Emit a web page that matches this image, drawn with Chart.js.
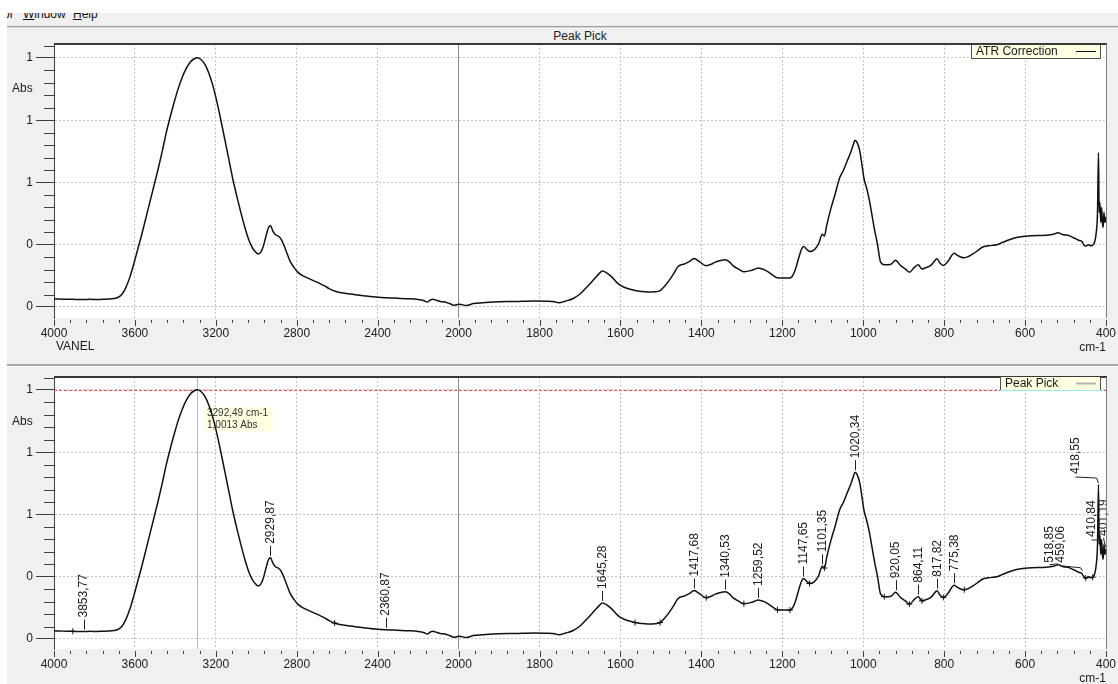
<!DOCTYPE html>
<html>
<head>
<meta charset="utf-8">
<script src="https://cdn.jsdelivr.net/npm/chart.js@4.4.1/dist/chart.umd.min.js"></script>
<style>
  html, body { margin: 0; padding: 0; width: 1118px; height: 684px; overflow: hidden; background: #f0f0f0;
    font-family: "Liberation Sans", Arial, sans-serif; color: #111; }
  .abs { position: absolute; }
  #menu span { position: absolute; top: 7px; font-size: 12px; line-height: 14px; white-space: pre; }
  #title { left: 54px; width: 1052px; top: 29px; text-align: center; font-size: 12px; line-height: 14px; color: #222; }
  canvas { position: absolute; left: 0; }
</style>
</head>
<body>
<div id="menu" class="abs" style="left:0;top:0;width:1118px;height:26px;">
  <span style="left:3px">or</span>
  <span style="left:23px"><u>W</u>indow</span>
  <span style="left:73px"><u>H</u>elp</span>
</div>
<div class="abs" style="left:0;top:0;width:1118px;height:13px;background:#fff;"></div>
<div class="abs" style="left:0;top:0;width:7px;height:684px;background:#fff;"></div>
<div class="abs" style="left:7px;top:26px;width:1111px;height:1px;background:#a0a0a0;"></div>
<div class="abs" style="left:7px;top:27px;width:1111px;height:1px;background:#d8d8d8;"></div>
<div id="title" class="abs">Peak Pick</div>
<div class="abs" style="left:7px;top:364px;width:1111px;height:2px;background:#a8a8a8;"></div>
<div class="abs" style="left:7px;top:366px;width:1111px;height:1px;background:#ffffff;"></div>

<canvas id="atr" width="1118" height="340" style="top:28px"></canvas>
<canvas id="pick" width="1118" height="316" style="top:368px"></canvas>

<script>
// ---- spectrum: wavenumber (cm-1) and absorbance ----
const wavenumbers = [
  4000, 3970, 3940, 3907, 3880, 3853.77, 3820, 3790, 3760, 3730,
  3705, 3685, 3665, 3645, 3625, 3605, 3585, 3565, 3545, 3525,
  3505, 3485, 3465, 3445, 3425, 3405, 3385, 3365, 3345, 3325,
  3305, 3292.49, 3275, 3255, 3235, 3215, 3195, 3175, 3155, 3135,
  3115, 3095, 3075, 3055, 3035, 3015, 3000, 2990, 2978, 2965,
  2952, 2940, 2929.87, 2918, 2905, 2890, 2877, 2862, 2848, 2832,
  2815, 2795, 2771, 2745, 2718, 2690, 2665, 2640, 2613, 2580,
  2542, 2500, 2454, 2410, 2360.87, 2320, 2280, 2243, 2200, 2170,
  2155, 2140, 2129, 2110, 2090, 2067, 2045, 2023, 2010, 1998,
  1981, 1963, 1940, 1901, 1860, 1813, 1785, 1760, 1753, 1735,
  1718, 1700, 1683, 1665, 1652, 1645.28, 1635, 1621, 1610, 1599,
  1582, 1564, 1548, 1533, 1515, 1502, 1490, 1480, 1468, 1458,
  1441, 1430, 1417.68, 1405, 1388, 1375, 1366, 1355, 1340.53, 1330,
  1322, 1308, 1295, 1278, 1268, 1259.52, 1245, 1234, 1222, 1212,
  1195, 1181, 1172, 1165, 1159, 1153, 1147.65, 1140, 1133, 1126,
  1119, 1110, 1101.35, 1096, 1090, 1080, 1070, 1058, 1050, 1040,
  1030, 1024, 1020.34, 1015, 1009, 1003, 998, 992, 985, 979,
  972, 965, 957, 948, 938, 930, 920.05, 908, 896, 886,
  873, 864.11, 855, 845, 833, 825, 817.82, 810, 802, 795,
  789, 775.38, 767, 758, 750, 740, 728, 716, 706, 690,
  670, 655, 644, 630, 618, 600, 582, 565, 547, 530,
  518.85, 505, 494, 480, 468, 459.06, 455, 450, 443, 437,
  433, 428, 424, 421, 418.55, 417, 415, 413, 410.84, 409,
  407, 405, 403, 401.19, 400
];
const absorbance = [
  0.033, 0.032, 0.031, 0.031, 0.030, 0.030, 0.031, 0.030, 0.031, 0.032,
  0.034, 0.038, 0.050, 0.078, 0.120, 0.175, 0.235, 0.295, 0.360, 0.425,
  0.490, 0.555, 0.625, 0.700, 0.765, 0.825, 0.880, 0.925, 0.960, 0.985,
  0.998, 1.0013, 0.995, 0.975, 0.940, 0.890, 0.825, 0.750, 0.670, 0.590,
  0.510, 0.440, 0.375, 0.315, 0.265, 0.232, 0.218, 0.213, 0.220, 0.245,
  0.285, 0.318, 0.326, 0.305, 0.290, 0.284, 0.272, 0.245, 0.215, 0.182,
  0.160, 0.140, 0.126, 0.116, 0.106, 0.096, 0.086, 0.074, 0.064, 0.057,
  0.053, 0.048, 0.044, 0.040, 0.037, 0.036, 0.034, 0.033, 0.030, 0.025,
  0.020, 0.028, 0.031, 0.027, 0.022, 0.020, 0.014, 0.007, 0.009, 0.011,
  0.006, 0.014, 0.017, 0.021, 0.022, 0.024, 0.023, 0.020, 0.017, 0.024,
  0.033, 0.052, 0.080, 0.112, 0.135, 0.145, 0.138, 0.120, 0.100, 0.086,
  0.074, 0.066, 0.062, 0.060, 0.061, 0.066, 0.085, 0.106, 0.135, 0.162,
  0.173, 0.182, 0.195, 0.182, 0.166, 0.172, 0.180, 0.186, 0.190, 0.180,
  0.166, 0.152, 0.142, 0.146, 0.152, 0.157, 0.150, 0.140, 0.126, 0.117,
  0.116, 0.116, 0.133, 0.165, 0.200, 0.230, 0.243, 0.232, 0.223, 0.225,
  0.233, 0.255, 0.292, 0.285, 0.330, 0.395, 0.450, 0.520, 0.545, 0.585,
  0.625, 0.655, 0.670, 0.660, 0.630, 0.570, 0.515, 0.480, 0.430, 0.375,
  0.310, 0.254, 0.180, 0.170, 0.170, 0.173, 0.188, 0.167, 0.153, 0.140,
  0.160, 0.170, 0.153, 0.158, 0.167, 0.182, 0.194, 0.176, 0.167, 0.175,
  0.187, 0.216, 0.207, 0.200, 0.198, 0.203, 0.214, 0.228, 0.240, 0.246,
  0.250, 0.260, 0.267, 0.275, 0.280, 0.284, 0.286, 0.287, 0.288, 0.292,
  0.298, 0.290, 0.288, 0.278, 0.268, 0.262, 0.250, 0.245, 0.250, 0.246,
  0.248, 0.262, 0.300, 0.380, 0.620, 0.380, 0.420, 0.340, 0.400, 0.340,
  0.320, 0.380, 0.340, 0.360, 0.340
];

// picked peaks (labelled) and baseline markers (crosses)
const peakWavenumbers = [3853.77, 2929.87, 2360.87, 1645.28, 1417.68, 1340.53, 1259.52, 1147.65,
  1101.35, 1020.34, 920.05, 864.11, 817.82, 775.38, 518.85, 459.06, 418.55, 410.84, 401.19];
const markerWavenumbers = [3907, 2613, 1564, 1502, 1388, 1295, 1212, 1181, 1133, 1096,
  948, 886, 855, 802, 750, 450, 433];

// cursor readout
const cursorWavenumber = 3292.49;
const cursorAbsorbance = 1.0013;

// axes
const xMajorTicks = [4000, 3600, 3200, 2800, 2400, 2000, 1800, 1600, 1400, 1200, 1000, 800, 600, 400];
const yMajorTicks = [0, 0.25, 0.5, 0.75, 1];

const UI_FONT = '"Liberation Sans", Arial, sans-serif';
Chart.defaults.font.family = UI_FONT;
Chart.defaults.font.size = 12;
Chart.defaults.color = '#202020';

// Wavenumber axis: high values on the left, expanded 2x below 2000 cm-1
const X_BREAK = 2000, X_EXPAND = 2;
class WavenumberScale extends Chart.LinearScale {
  _units(v) {
    return v >= X_BREAK ? (this.max - v) : (this.max - X_BREAK) + X_EXPAND * (X_BREAK - v);
  }
  getPixelForValue(v) {
    if (v === null || v === undefined || isNaN(v)) return NaN;
    return this.getPixelForDecimal(this._units(v) / this._units(this.min));
  }
  getValueForPixel(p) {
    const u = this.getDecimalForPixel(p) * this._units(this.min);
    const upper = this.max - X_BREAK;
    return u <= upper ? this.max - u : X_BREAK - (u - upper) / X_EXPAND;
  }
}
WavenumberScale.id = 'wavenumber';
WavenumberScale.defaults = {};
Chart.register(WavenumberScale);

const absAt = (w) => absorbance[wavenumbers.indexOf(w)];
const commaFixed = (v, d) => v.toFixed(d).replace('.', ',');

// label offsets for the crowded callouts at the right end
const calloutLayout = {
  '518.85': { text: [-9, -2], path: [[-9, 0], [-1, -1]] },
  '459.06': { text: [-22, -11], path: [[-22, -8], [-2, -6], [0, -3]] },
  '418.55': { text: [-23.5, -10.6], path: [[-23.5, -7.6], [-2.5, -6.6], [0, -1.6]] },
  '410.84': { text: [-10.6, -2.4], path: [[-10.6, 0.6], [-2.6, 0.6]] },
  '401.19': { text: [-2.5, -13.4], path: [[-2.5, -11.4], [-1, -2.4]] }
};

const crisp = (v) => Math.round(v) + 0.5;

const panelDecor = {
  id: 'panelDecor',
  beforeDraw(chart) {
    const { ctx, chartArea: a } = chart;
    ctx.save();
    ctx.fillStyle = '#ffffff';
    ctx.fillRect(a.left, a.top, a.right - a.left, a.bottom - a.top);
    ctx.restore();
  },
  beforeDatasetsDraw(chart, args, o) {
    if (!o.cursor) return;
    const { ctx, chartArea: a } = chart;
    const xs = chart.scales.x, ys = chart.scales.y;
    const px = xs.getPixelForValue(cursorWavenumber);
    const py = ys.getPixelForValue(cursorAbsorbance);
    ctx.save();
    ctx.lineWidth = 1;
    // horizontal level line
    ctx.strokeStyle = '#ff4a4a';
    ctx.setLineDash([3, 2]);
    ctx.beginPath();
    ctx.moveTo(a.left, crisp(py)); ctx.lineTo(a.right, crisp(py));
    ctx.stroke();
    // vertical cursor
    ctx.setLineDash([]);
    ctx.strokeStyle = '#ff9a9a';
    ctx.beginPath();
    ctx.moveTo(crisp(px), a.top); ctx.lineTo(crisp(px), a.bottom);
    ctx.stroke();
    // readout
    const l1 = commaFixed(cursorWavenumber, 2) + ' cm-1';
    const l2 = commaFixed(cursorAbsorbance, 4) + ' Abs';
    ctx.font = '10px ' + UI_FONT;
    const w = Math.max(ctx.measureText(l1).width, ctx.measureText(l2).width) + 7;
    const bx = Math.round(px + 7), by = Math.round(py + 17);
    ctx.fillStyle = '#ffffe1';
    ctx.fillRect(bx, by, w, 24);
    ctx.fillStyle = '#333333';
    ctx.textBaseline = 'middle';
    ctx.textAlign = 'left';
    ctx.fillText(l1, bx + 3, by + 6.5);
    ctx.fillText(l2, bx + 3, by + 18.5);
    ctx.restore();
  },
  afterDatasetsDraw(chart, args, o) {
    if (!o.peaks) return;
    const { ctx } = chart;
    const xs = chart.scales.x, ys = chart.scales.y;
    ctx.save();
    ctx.font = '12px ' + UI_FONT;
    ctx.strokeStyle = '#222222';
    ctx.fillStyle = '#1c1c1c';
    ctx.lineWidth = 1;
    peakWavenumbers.forEach((w) => {
      const px = xs.getPixelForValue(w);
      const py = ys.getPixelForValue(absAt(w));
      const lay = calloutLayout[String(w)] || { text: [0, -14], path: [[0, -12], [0, -2]] };
      ctx.beginPath();
      lay.path.forEach(([dx, dy], i) => {
        const X = crisp(px + dx), Y = py + dy;
        if (i === 0) ctx.moveTo(X, Y); else ctx.lineTo(X, Y);
      });
      ctx.stroke();
      ctx.save();
      ctx.translate(px + lay.text[0], py + lay.text[1]);
      ctx.rotate(-Math.PI / 2);
      ctx.textAlign = 'left';
      ctx.textBaseline = 'middle';
      ctx.fillText(commaFixed(w, 2), 0, 0.5);
      ctx.restore();
    });
    ctx.restore();
  },
  afterDraw(chart, args, o) {
    const { ctx, chartArea: a } = chart;
    const xs = chart.scales.x, ys = chart.scales.y;
    ctx.save();
    // frame
    ctx.fillStyle = '#3a3a3a';
    ctx.fillRect(a.left, a.top - 1, a.right - a.left + 1, 2);
    ctx.fillStyle = '#7c7c7c';
    ctx.fillRect(a.right, a.top, 1, a.bottom - a.top);

    // minor ticks
    ctx.strokeStyle = '#404040';
    ctx.lineWidth = 1;
    ctx.beginPath();
    const kMin = Math.ceil(ys.min / 0.05), kMax = Math.floor(ys.max / 0.05);
    for (let k = kMin; k <= kMax; k++) {
      if (k % 5 === 0) continue;
      const y = crisp(ys.getPixelForValue(k * 0.05));
      ctx.moveTo(a.left - 10, y); ctx.lineTo(a.left, y);
    }
    // x ticks below the plot
    const xTick = (v, len) => {
      const x = crisp(xs.getPixelForValue(v));
      ctx.moveTo(x, a.bottom + 2); ctx.lineTo(x, a.bottom + 2 + len);
    };
    xMajorTicks.forEach((v) => xTick(v, 6));
    for (let v = 4000; v > 2000; v -= 80) if (!xMajorTicks.includes(v)) xTick(v, 3);
    for (let v = 2000; v >= 400; v -= 40) if (!xMajorTicks.includes(v)) xTick(v, 3);
    ctx.stroke();

    // axis titles
    ctx.fillStyle = '#1a1a1a';
    ctx.font = '12px ' + UI_FONT;
    ctx.textBaseline = 'middle';
    ctx.textAlign = 'left';
    ctx.fillText('Abs', 12, a.top + 45);
    if (o.sample) ctx.fillText(o.sample, a.left + 2, a.bottom + 29);
    ctx.textAlign = 'right';
    ctx.fillText('cm-1', a.right, a.bottom + 30);

    // legend box
    if (o.legendText) {
      ctx.textAlign = 'left';
      const tw = ctx.measureText(o.legendText).width;
      const bw = Math.round(tw + 48), bh = 14;
      const bx = a.right - 5 - bw, by = a.top + (o.legendOffset || 0);
      ctx.fillStyle = '#ffffe1';
      ctx.fillRect(bx, by, bw, bh);
      ctx.fillStyle = '#505050';
      ctx.fillRect(bx, by, 1, bh);
      ctx.fillRect(bx + bw - 1, by, 1, bh);
      ctx.fillStyle = o.legendEdge || '#505050';
      ctx.fillRect(bx, by + bh - 1, bw, 1);
      ctx.fillStyle = '#1a1a1a';
      ctx.fillText(o.legendText, bx + 5, by + 7);
      ctx.strokeStyle = o.legendLine;
      ctx.lineWidth = o.legendLineWidth || 1;
      ctx.beginPath();
      ctx.moveTo(bx + bw - 25, by + 6.5); ctx.lineTo(bx + bw - 5, by + 6.5);
      ctx.stroke();
    }
    ctx.restore();
  }
};

function buildPanel(canvasId, cfg) {
  const datasets = [{
    data: wavenumbers.map((w, i) => ({ x: w, y: absorbance[i] })),
    borderColor: '#111111',
    borderWidth: 1.5,
    pointRadius: 0,
    cubicInterpolationMode: 'monotone',
    order: 2
  }];
  if (cfg.markers) {
    datasets.push({
      data: markerWavenumbers.map((w) => ({ x: w, y: absAt(w) })),
      showLine: false,
      pointStyle: 'cross',
      pointRadius: 3,
      borderColor: '#111111',
      borderWidth: 1,
      order: 1
    });
  }
  return new Chart(document.getElementById(canvasId), {
    type: 'line',
    data: { datasets },
    options: {
      responsive: false,
      animation: false,
      events: [],
      devicePixelRatio: 1,
      layout: { padding: { top: cfg.padTop, right: 12, bottom: 0, left: 0 } },
      plugins: {
        legend: { display: false },
        tooltip: { enabled: false },
        panelDecor: cfg.decor
      },
      scales: {
        x: {
          type: 'wavenumber',
          min: 400,
          max: 4000,
          bounds: 'data',
          afterBuildTicks: (s) => { s.ticks = xMajorTicks.map((v) => ({ value: v })); },
          afterFit: (s) => { s.height = cfg.xHeight; s.paddingLeft = 0; s.paddingRight = 0; },
          ticks: { autoSkip: false, maxRotation: 0, padding: 8, color: '#202020',
            callback: (v) => String(v) },
          grid: {
            drawTicks: false,
            color: (c) => (c.tick && c.tick.value === 2000 ? '#8c8c8c' : '#c4c4c4'),
            lineWidth: 1
          },
          border: { display: false, dash: (c) => (c.tick && c.tick.value === 2000 ? [] : [2, 2]) }
        },
        y: {
          type: 'linear',
          min: cfg.yMin,
          max: cfg.yMax,
          bounds: 'data',
          afterBuildTicks: (s) => { s.ticks = yMajorTicks.map((v) => ({ value: v })); },
          afterFit: (s) => { s.width = 54; s.paddingTop = 0; s.paddingBottom = 0; },
          ticks: { autoSkip: false, padding: 3, color: '#202020',
            callback: (v) => String(Math.round(v)) },
          grid: { color: '#c4c4c4', lineWidth: 1, tickLength: 18, tickColor: '#404040', drawTicks: true },
          border: { display: true, color: '#404040', width: 1, dash: [2, 2] }
        }
      }
    },
    plugins: [panelDecor]
  });
}

buildPanel('atr', {
  padTop: 16, xHeight: 50, yMin: -0.0442, yMax: 1.0562, markers: false,
  decor: { sample: 'VANEL', legendText: 'ATR Correction', legendLine: '#111111',
    legendLineWidth: 1, legendOffset: 1, cursor: false, peaks: false }
});

buildPanel('pick', {
  padTop: 9, xHeight: 35, yMin: -0.0402, yMax: 1.0522, markers: true,
  decor: { sample: '', legendText: 'Peak Pick', legendLine: '#b4b4b4', legendLineWidth: 2,
    legendOffset: 0, legendEdge: '#9fe8ec', cursor: true, peaks: true }
});
</script>
</body>
</html>
